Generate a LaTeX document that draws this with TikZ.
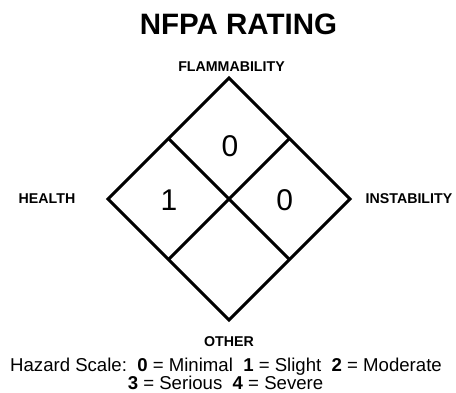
\documentclass[tikz,border=0pt]{standalone}
\usepackage{fontspec}
\setmainfont{Liberation Sans}
\usetikzlibrary{calc}
\begin{document}
\begin{tikzpicture}[x=1pt,y=-1pt,
  edge/.style={line width=3pt,line join=miter,line cap=butt},
  axis/.style={font=\bfseries\fontsize{14.2}{16}\selectfont,inner sep=0pt,anchor=base},
  num/.style={font=\fontsize{30}{34}\selectfont,inner sep=0pt,anchor=base},
  txt/.style={font=\fontsize{18.6}{21}\selectfont,inner sep=0pt,anchor=base}]
\useasboundingbox (0,0) rectangle (456,393);
\coordinate (T) at (229,78);
\coordinate (L) at (108,199);
\coordinate (R) at (350,199);
\coordinate (B) at (229,320);
\coordinate (TL) at ($(T)!0.5!(L)$);
\coordinate (TR) at ($(T)!0.5!(R)$);
\coordinate (BL) at ($(B)!0.5!(L)$);
\coordinate (BR) at ($(B)!0.5!(R)$);
\draw[edge] (T) -- (R) -- (B) -- (L) -- cycle;
\draw[edge] (TL) -- (BR);
\draw[edge] (TR) -- (BL);
\node[font=\bfseries\fontsize{29.5}{34}\selectfont,inner sep=0pt,anchor=base] (title) at (238.5,35) {NFPA RATING};
\node[axis] (flam) at (231.5,71.7) {FLAMMABILITY};
\node[axis] (health) at (47,203.3) {HEALTH};
\node[axis] (inst) at (409,203.3) {INSTABILITY};
\node[axis] (other) at (229,346.7) {OTHER};
\node[num] (f) at (230,156.7) {0};
\node[num] (h) at (169,210.5) {1};
\node[num] (i) at (284.7,211) {0};
\node[txt] (scale1) at (226,371.5) {Hazard Scale:\ \ \textbf{0} = Minimal\ \ \textbf{1} = Slight\ \ \textbf{2} = Moderate};
\node[txt] (scale2) at (225.5,389.3) {\textbf{3} = Serious\ \ \textbf{4} = Severe};
\end{tikzpicture}
\end{document}
